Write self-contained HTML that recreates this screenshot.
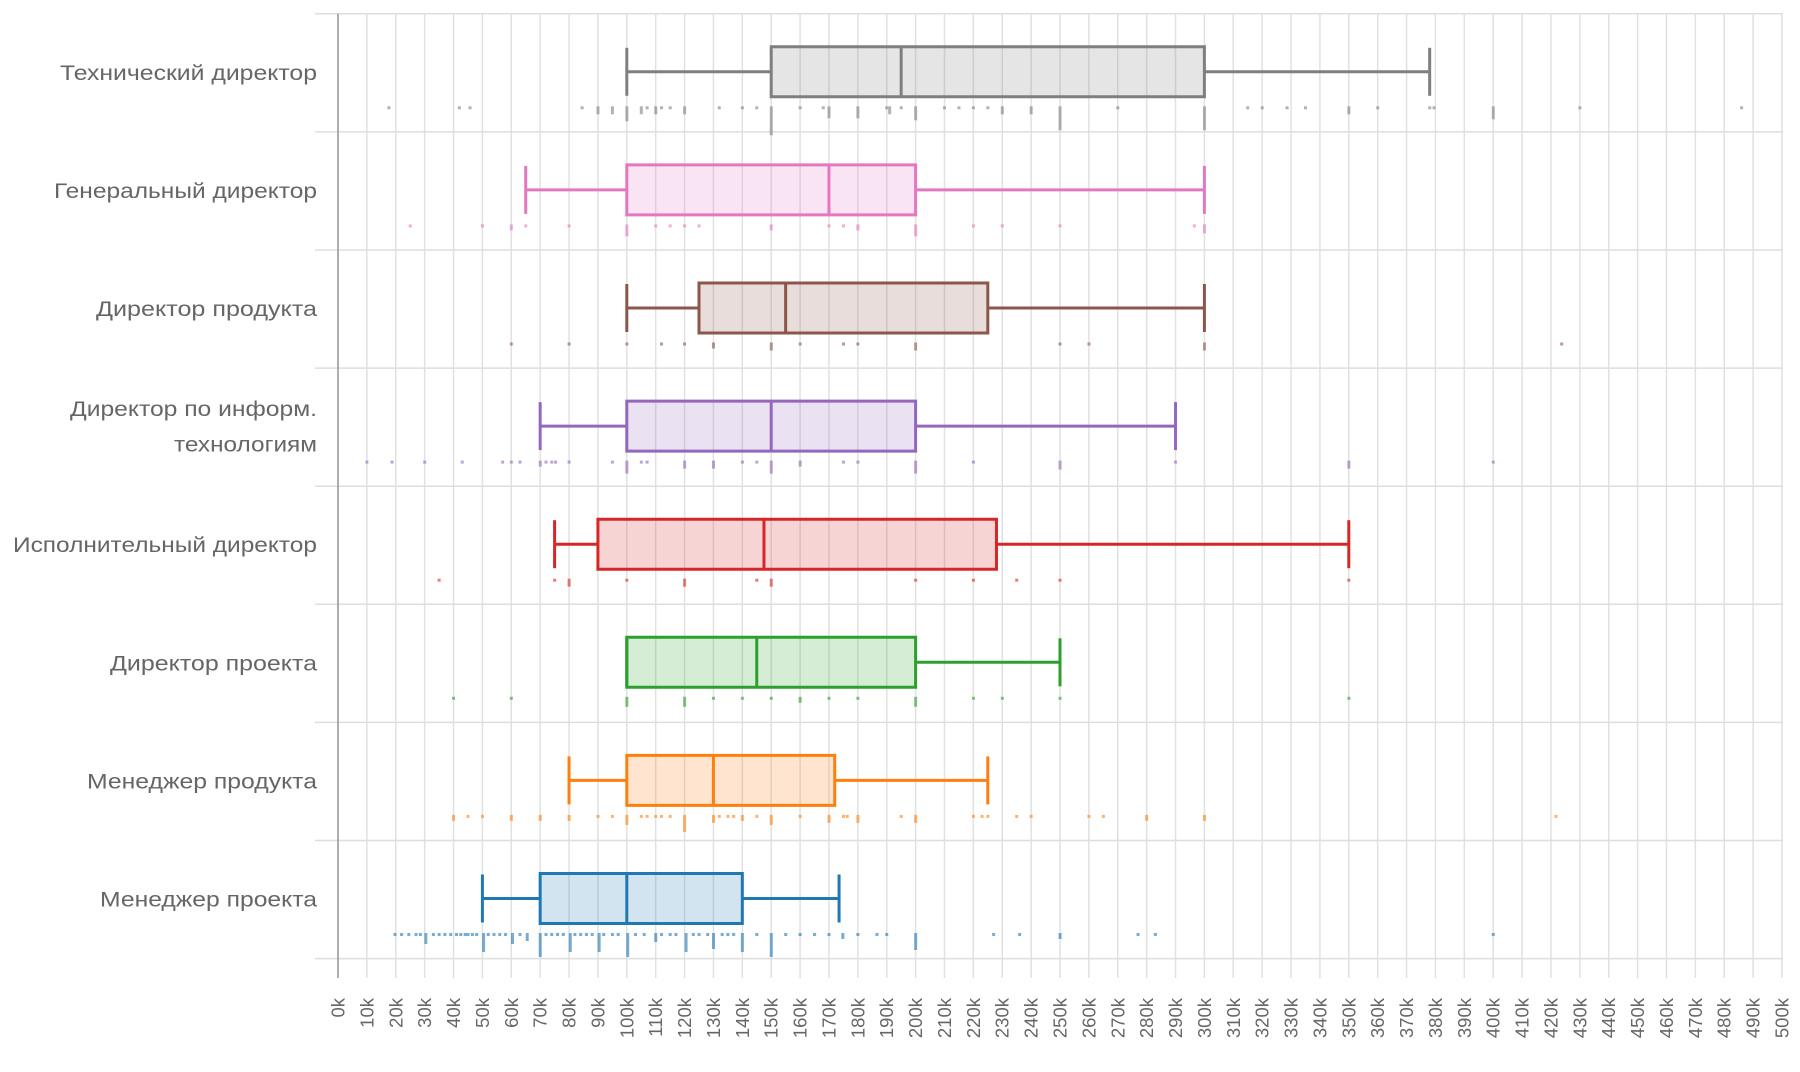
<!DOCTYPE html>
<html><head><meta charset="utf-8"><style>
html,body{margin:0;padding:0;background:#fff;}
svg{display:block;}
.d line,.d rect.b{vector-effect:non-scaling-stroke;}
.lab{font-family:"Liberation Sans",Arial,sans-serif;font-size:21.5px;fill:#666;}
.tk{font-family:"Liberation Sans",Arial,sans-serif;font-size:18.5px;fill:#666;}
</style></head><body>
<svg width="1800" height="1072" viewBox="0 0 1800 1072" xmlns="http://www.w3.org/2000/svg">
<rect width="1800" height="1072" fill="#fff"/>
<!-- vertical grid -->
<g class="d" transform="translate(338,0) scale(2.888,1)" stroke="#e1e1e1" stroke-width="1.5">
<line x1="10" x2="10" y1="13.8" y2="978"/><line x1="20" x2="20" y1="13.8" y2="978"/><line x1="30" x2="30" y1="13.8" y2="978"/><line x1="40" x2="40" y1="13.8" y2="978"/><line x1="50" x2="50" y1="13.8" y2="978"/><line x1="60" x2="60" y1="13.8" y2="978"/><line x1="70" x2="70" y1="13.8" y2="978"/><line x1="80" x2="80" y1="13.8" y2="978"/><line x1="90" x2="90" y1="13.8" y2="978"/><line x1="100" x2="100" y1="13.8" y2="978"/>
<line x1="110" x2="110" y1="13.8" y2="978"/><line x1="120" x2="120" y1="13.8" y2="978"/><line x1="130" x2="130" y1="13.8" y2="978"/><line x1="140" x2="140" y1="13.8" y2="978"/><line x1="150" x2="150" y1="13.8" y2="978"/><line x1="160" x2="160" y1="13.8" y2="978"/><line x1="170" x2="170" y1="13.8" y2="978"/><line x1="180" x2="180" y1="13.8" y2="978"/><line x1="190" x2="190" y1="13.8" y2="978"/><line x1="200" x2="200" y1="13.8" y2="978"/>
<line x1="210" x2="210" y1="13.8" y2="978"/><line x1="220" x2="220" y1="13.8" y2="978"/><line x1="230" x2="230" y1="13.8" y2="978"/><line x1="240" x2="240" y1="13.8" y2="978"/><line x1="250" x2="250" y1="13.8" y2="978"/><line x1="260" x2="260" y1="13.8" y2="978"/><line x1="270" x2="270" y1="13.8" y2="978"/><line x1="280" x2="280" y1="13.8" y2="978"/><line x1="290" x2="290" y1="13.8" y2="978"/><line x1="300" x2="300" y1="13.8" y2="978"/>
<line x1="310" x2="310" y1="13.8" y2="978"/><line x1="320" x2="320" y1="13.8" y2="978"/><line x1="330" x2="330" y1="13.8" y2="978"/><line x1="340" x2="340" y1="13.8" y2="978"/><line x1="350" x2="350" y1="13.8" y2="978"/><line x1="360" x2="360" y1="13.8" y2="978"/><line x1="370" x2="370" y1="13.8" y2="978"/><line x1="380" x2="380" y1="13.8" y2="978"/><line x1="390" x2="390" y1="13.8" y2="978"/><line x1="400" x2="400" y1="13.8" y2="978"/>
<line x1="410" x2="410" y1="13.8" y2="978"/><line x1="420" x2="420" y1="13.8" y2="978"/><line x1="430" x2="430" y1="13.8" y2="978"/><line x1="440" x2="440" y1="13.8" y2="978"/><line x1="450" x2="450" y1="13.8" y2="978"/><line x1="460" x2="460" y1="13.8" y2="978"/><line x1="470" x2="470" y1="13.8" y2="978"/><line x1="480" x2="480" y1="13.8" y2="978"/><line x1="490" x2="490" y1="13.8" y2="978"/><line x1="500" x2="500" y1="13.8" y2="978"/>
</g>
<!-- horizontal separators -->
<g stroke="#dedede" stroke-width="1.5">
<line x1="315" x2="1783" y1="13.8" y2="13.8"/><line x1="315" x2="1783" y1="131.9" y2="131.9"/><line x1="315" x2="1783" y1="250" y2="250"/><line x1="315" x2="1783" y1="368.1" y2="368.1"/><line x1="315" x2="1783" y1="486.2" y2="486.2"/><line x1="315" x2="1783" y1="604.3" y2="604.3"/><line x1="315" x2="1783" y1="722.4" y2="722.4"/><line x1="315" x2="1783" y1="840.5" y2="840.5"/><line x1="315" x2="1783" y1="958.6" y2="958.6"/>
</g>
<line x1="338" x2="338" y1="13.8" y2="978" stroke="#9a9a9a" stroke-width="1.6"/>

<!-- boxes -->
<g class="d" transform="translate(338,0) scale(2.888,1)" stroke-width="3">
<g stroke="#7f7f7f">
<rect class="b" x="150" y="46.8" width="150" height="50" fill="#7f7f7f" fill-opacity="0.2"/>
<line x1="195" x2="195" y1="46.8" y2="96.8"/>
<line x1="100" x2="150" y1="71.8" y2="71.8"/><line x1="300" x2="378" y1="71.8" y2="71.8"/>
<line x1="100" x2="100" y1="47.8" y2="95.8"/><line x1="378" x2="378" y1="47.8" y2="95.8"/>
</g>
<g stroke="#e377c2">
<rect class="b" x="100" y="164.9" width="100" height="50" fill="#e377c2" fill-opacity="0.2"/>
<line x1="170" x2="170" y1="164.9" y2="214.9"/>
<line x1="65" x2="100" y1="189.9" y2="189.9"/><line x1="200" x2="300" y1="189.9" y2="189.9"/>
<line x1="65" x2="65" y1="165.9" y2="213.9"/><line x1="300" x2="300" y1="165.9" y2="213.9"/>
</g>
<g stroke="#8c564b">
<rect class="b" x="125" y="283" width="100" height="50" fill="#8c564b" fill-opacity="0.2"/>
<line x1="155" x2="155" y1="283" y2="333"/>
<line x1="100" x2="125" y1="308" y2="308"/><line x1="225" x2="300" y1="308" y2="308"/>
<line x1="100" x2="100" y1="284" y2="332"/><line x1="300" x2="300" y1="284" y2="332"/>
</g>
<g stroke="#9467bd">
<rect class="b" x="100" y="401.1" width="100" height="50" fill="#9467bd" fill-opacity="0.2"/>
<line x1="150" x2="150" y1="401.1" y2="451.1"/>
<line x1="70" x2="100" y1="426.1" y2="426.1"/><line x1="200" x2="290" y1="426.1" y2="426.1"/>
<line x1="70" x2="70" y1="402.1" y2="450.1"/><line x1="290" x2="290" y1="402.1" y2="450.1"/>
</g>
<g stroke="#d62728">
<rect class="b" x="90" y="519.2" width="138" height="50" fill="#d62728" fill-opacity="0.2"/>
<line x1="147.5" x2="147.5" y1="519.2" y2="569.2"/>
<line x1="75" x2="90" y1="544.2" y2="544.2"/><line x1="228" x2="350" y1="544.2" y2="544.2"/>
<line x1="75" x2="75" y1="520.2" y2="568.2"/><line x1="350" x2="350" y1="520.2" y2="568.2"/>
</g>
<g stroke="#2ca02c">
<rect class="b" x="100" y="637.3" width="100" height="50" fill="#2ca02c" fill-opacity="0.2"/>
<line x1="145" x2="145" y1="637.3" y2="687.3"/>
<line x1="200" x2="250" y1="662.3" y2="662.3"/>
<line x1="100" x2="100" y1="638.3" y2="686.3"/><line x1="250" x2="250" y1="638.3" y2="686.3"/>
</g>
<g stroke="#ff7f0e">
<rect class="b" x="100" y="755.4" width="72" height="50" fill="#ff7f0e" fill-opacity="0.2"/>
<line x1="130" x2="130" y1="755.4" y2="805.4"/>
<line x1="80" x2="100" y1="780.4" y2="780.4"/><line x1="172" x2="225" y1="780.4" y2="780.4"/>
<line x1="80" x2="80" y1="756.4" y2="804.4"/><line x1="225" x2="225" y1="756.4" y2="804.4"/>
</g>
<g stroke="#1f77b4">
<rect class="b" x="70" y="873.5" width="70" height="50" fill="#1f77b4" fill-opacity="0.2"/>
<line x1="100" x2="100" y1="873.5" y2="923.5"/>
<line x1="50" x2="70" y1="898.5" y2="898.5"/><line x1="140" x2="173.5" y1="898.5" y2="898.5"/>
<line x1="50" x2="50" y1="874.5" y2="922.5"/><line x1="173.5" x2="173.5" y1="874.5" y2="922.5"/>
</g>
</g>

<!-- strip marks -->
<g transform="translate(338,0) scale(2.888,1)">
<g fill="#7f7f7f" opacity="0.6" transform="translate(0,106.3)">
<rect x="17.1" width="1.04" height="3"/><rect x="41.5" width="1.04" height="3"/><rect x="45.2" width="1.04" height="3"/><rect x="84" width="1.04" height="3"/><rect x="89.5" width="1.04" height="8"/><rect x="94.5" width="1.04" height="8"/><rect x="99.5" width="1.04" height="15"/><rect x="104.5" width="1.04" height="8"/><rect x="106.5" width="1.04" height="3"/><rect x="109.5" width="1.04" height="8"/><rect x="111.5" width="1.04" height="3"/><rect x="114.5" width="1.04" height="3"/><rect x="119.5" width="1.04" height="8"/><rect x="131.5" width="1.04" height="3"/><rect x="139.5" width="1.04" height="3"/><rect x="144.5" width="1.04" height="3"/><rect x="149.5" width="1.04" height="29"/><rect x="159.5" width="1.04" height="3"/><rect x="167.5" width="1.04" height="3"/><rect x="169.5" width="1.04" height="12"/><rect x="179.5" width="1.04" height="12"/><rect x="189.5" width="1.04" height="3"/><rect x="190.5" width="1.04" height="8"/><rect x="194.5" width="1.04" height="3"/><rect x="199.5" width="1.04" height="14"/><rect x="209.5" width="1.04" height="3"/><rect x="214.5" width="1.04" height="3"/><rect x="219.5" width="1.04" height="3"/><rect x="224.5" width="1.04" height="3"/><rect x="229.5" width="1.04" height="8"/><rect x="239.5" width="1.04" height="8"/><rect x="249.5" width="1.04" height="24"/><rect x="269.5" width="1.04" height="3"/><rect x="299.5" width="1.04" height="24"/><rect x="314.5" width="1.04" height="3"/><rect x="319.5" width="1.04" height="3"/><rect x="328.1" width="1.04" height="3"/><rect x="334.5" width="1.04" height="3"/><rect x="349.5" width="1.04" height="8"/><rect x="359.5" width="1.04" height="3"/><rect x="377.5" width="1.04" height="3"/><rect x="379" width="1.04" height="3"/><rect x="399.5" width="1.04" height="13"/><rect x="429.5" width="1.04" height="3"/><rect x="485.5" width="1.04" height="3"/>
</g>
<g fill="#e377c2" opacity="0.6" transform="translate(0,224.4)">
<rect x="24.5" width="1.04" height="3"/><rect x="49.5" width="1.04" height="3"/><rect x="59.5" width="1.04" height="6"/><rect x="64.5" width="1.04" height="3"/><rect x="79.5" width="1.04" height="3"/><rect x="99.5" width="1.04" height="12"/><rect x="109.5" width="1.04" height="3"/><rect x="114.5" width="1.04" height="3"/><rect x="119.5" width="1.04" height="3"/><rect x="124.5" width="1.04" height="3"/><rect x="149.5" width="1.04" height="6"/><rect x="169.5" width="1.04" height="3"/><rect x="174.5" width="1.04" height="3"/><rect x="179.5" width="1.04" height="6"/><rect x="199.5" width="1.04" height="12"/><rect x="219.5" width="1.04" height="3"/><rect x="229.5" width="1.04" height="3"/><rect x="249.5" width="1.04" height="3"/><rect x="296" width="1.04" height="3"/><rect x="299.5" width="1.04" height="9"/>
</g>
<g fill="#8c564b" opacity="0.6" transform="translate(0,342.5)">
<rect x="59.5" width="1.04" height="3"/><rect x="79.5" width="1.04" height="3"/><rect x="99.5" width="1.04" height="3"/><rect x="111.5" width="1.04" height="3"/><rect x="119.5" width="1.04" height="3"/><rect x="129.5" width="1.04" height="6"/><rect x="149.5" width="1.04" height="8"/><rect x="159.5" width="1.04" height="3"/><rect x="174.5" width="1.04" height="3"/><rect x="179.5" width="1.04" height="3"/><rect x="199.5" width="1.04" height="8"/><rect x="249.5" width="1.04" height="3"/><rect x="259.5" width="1.04" height="3"/><rect x="299.5" width="1.04" height="8"/><rect x="423.2" width="1.04" height="3"/>
</g>
<g fill="#9467bd" opacity="0.6" transform="translate(0,460.6)">
<rect x="9.5" width="1.04" height="3"/><rect x="18.2" width="1.04" height="3"/><rect x="29.5" width="1.04" height="3"/><rect x="42.5" width="1.04" height="3"/><rect x="56.5" width="1.04" height="3"/><rect x="59.5" width="1.04" height="3"/><rect x="62.5" width="1.04" height="3"/><rect x="69.5" width="1.04" height="6"/><rect x="71.5" width="1.04" height="3"/><rect x="73.5" width="1.04" height="3"/><rect x="74.8" width="1.04" height="3"/><rect x="79.5" width="1.04" height="3"/><rect x="94.5" width="1.04" height="3"/><rect x="99.5" width="1.04" height="13"/><rect x="104.5" width="1.04" height="3"/><rect x="106.5" width="1.04" height="3"/><rect x="119.5" width="1.04" height="8"/><rect x="129.5" width="1.04" height="8"/><rect x="139.5" width="1.04" height="3"/><rect x="144.5" width="1.04" height="3"/><rect x="149.5" width="1.04" height="13"/><rect x="159.5" width="1.04" height="6"/><rect x="174.5" width="1.04" height="3"/><rect x="179.5" width="1.04" height="3"/><rect x="199.5" width="1.04" height="13"/><rect x="219.5" width="1.04" height="3"/><rect x="249.5" width="1.04" height="9"/><rect x="289.5" width="1.04" height="3"/><rect x="349.5" width="1.04" height="8"/><rect x="399.5" width="1.04" height="3"/>
</g>
<g fill="#d62728" opacity="0.6" transform="translate(0,578.7)">
<rect x="34.5" width="1.04" height="3"/><rect x="74.5" width="1.04" height="3"/><rect x="79.5" width="1.04" height="8"/><rect x="99.5" width="1.04" height="3"/><rect x="119.5" width="1.04" height="8"/><rect x="144.5" width="1.04" height="3"/><rect x="149.5" width="1.04" height="8"/><rect x="199.5" width="1.04" height="3"/><rect x="219.5" width="1.04" height="3"/><rect x="234.5" width="1.04" height="3"/><rect x="249.5" width="1.04" height="3"/><rect x="349.5" width="1.04" height="3"/>
</g>
<g fill="#2ca02c" opacity="0.6" transform="translate(0,696.8)">
<rect x="39.5" width="1.04" height="3"/><rect x="59.5" width="1.04" height="3"/><rect x="99.5" width="1.04" height="10"/><rect x="119.5" width="1.04" height="10"/><rect x="129.5" width="1.04" height="3"/><rect x="139.5" width="1.04" height="3"/><rect x="149.5" width="1.04" height="3"/><rect x="159.5" width="1.04" height="6"/><rect x="169.5" width="1.04" height="3"/><rect x="179.5" width="1.04" height="3"/><rect x="199.5" width="1.04" height="10"/><rect x="219.5" width="1.04" height="3"/><rect x="229.5" width="1.04" height="3"/><rect x="249.5" width="1.04" height="3"/><rect x="349.5" width="1.04" height="3"/>
</g>
<g fill="#ff7f0e" opacity="0.6" transform="translate(0,814.9)">
<rect x="39.5" width="1.04" height="6"/><rect x="44.5" width="1.04" height="3"/><rect x="49.5" width="1.04" height="3"/><rect x="59.5" width="1.04" height="6"/><rect x="69.5" width="1.04" height="6"/><rect x="79.5" width="1.04" height="6"/><rect x="89.5" width="1.04" height="3"/><rect x="94.5" width="1.04" height="3"/><rect x="99.5" width="1.04" height="10"/><rect x="104.5" width="1.04" height="3"/><rect x="106.5" width="1.04" height="3"/><rect x="109.5" width="1.04" height="3"/><rect x="111.5" width="1.04" height="3"/><rect x="114.5" width="1.04" height="3"/><rect x="119.5" width="1.04" height="17"/><rect x="129.5" width="1.04" height="8"/><rect x="131.5" width="1.04" height="3"/><rect x="134.5" width="1.04" height="3"/><rect x="136.5" width="1.04" height="3"/><rect x="139.5" width="1.04" height="6"/><rect x="144.5" width="1.04" height="3"/><rect x="149.5" width="1.04" height="10"/><rect x="159.5" width="1.04" height="3"/><rect x="169.5" width="1.04" height="8"/><rect x="174.5" width="1.04" height="3"/><rect x="175.8" width="1.04" height="3"/><rect x="179.5" width="1.04" height="8"/><rect x="194.5" width="1.04" height="3"/><rect x="199.5" width="1.04" height="8"/><rect x="219.5" width="1.04" height="3"/><rect x="222.5" width="1.04" height="3"/><rect x="224.5" width="1.04" height="3"/><rect x="234.5" width="1.04" height="3"/><rect x="239.5" width="1.04" height="3"/><rect x="259.5" width="1.04" height="3"/><rect x="264.5" width="1.04" height="3"/><rect x="279.5" width="1.04" height="6"/><rect x="299.5" width="1.04" height="6"/><rect x="421.2" width="1.04" height="3"/>
</g>
<g fill="#1f77b4" opacity="0.6" transform="translate(0,933)">
<rect x="19.2" width="1.04" height="3"/><rect x="21.5" width="1.04" height="3"/><rect x="24" width="1.04" height="3"/><rect x="26.5" width="1.04" height="3"/><rect x="28" width="1.04" height="3"/><rect x="29.9" width="1.04" height="11"/><rect x="32.5" width="1.04" height="3"/><rect x="34.5" width="1.04" height="3"/><rect x="36.5" width="1.04" height="3"/><rect x="38.5" width="1.04" height="3"/><rect x="40.5" width="1.04" height="3"/><rect x="42" width="1.04" height="3"/><rect x="43.5" width="1.04" height="3"/><rect x="44.5" width="1.04" height="3"/><rect x="46" width="1.04" height="3"/><rect x="47.5" width="1.04" height="3"/><rect x="49.9" width="1.04" height="19"/><rect x="51.5" width="1.04" height="3"/><rect x="53.5" width="1.04" height="3"/><rect x="55.5" width="1.04" height="3"/><rect x="57.5" width="1.04" height="3"/><rect x="59.9" width="1.04" height="11"/><rect x="62.5" width="1.04" height="3"/><rect x="65" width="1.04" height="8"/><rect x="69.5" width="1.04" height="24"/><rect x="71.5" width="1.04" height="3"/><rect x="73.5" width="1.04" height="3"/><rect x="75.5" width="1.04" height="3"/><rect x="77.5" width="1.04" height="3"/><rect x="79.9" width="1.04" height="19"/><rect x="81.5" width="1.04" height="3"/><rect x="83.5" width="1.04" height="3"/><rect x="85.5" width="1.04" height="3"/><rect x="87.5" width="1.04" height="3"/><rect x="89.9" width="1.04" height="19"/><rect x="91.5" width="1.04" height="3"/><rect x="94.5" width="1.04" height="3"/><rect x="96.5" width="1.04" height="3"/><rect x="99.8" width="1.04" height="24"/><rect x="102.5" width="1.04" height="3"/><rect x="105.5" width="1.04" height="3"/><rect x="109.5" width="1.04" height="9"/><rect x="111.5" width="1.04" height="3"/><rect x="114.5" width="1.04" height="3"/><rect x="116.5" width="1.04" height="3"/><rect x="120" width="1.04" height="19"/><rect x="122.5" width="1.04" height="3"/><rect x="124.5" width="1.04" height="3"/><rect x="127.5" width="1.04" height="3"/><rect x="129.5" width="1.04" height="16"/><rect x="132.5" width="1.04" height="3"/><rect x="134.5" width="1.04" height="3"/><rect x="136.5" width="1.04" height="3"/><rect x="139.5" width="1.04" height="19"/><rect x="144.5" width="1.04" height="3"/><rect x="149.5" width="1.04" height="24"/><rect x="154.5" width="1.04" height="3"/><rect x="159.5" width="1.04" height="3"/><rect x="164.5" width="1.04" height="3"/><rect x="169.5" width="1.04" height="3"/><rect x="174.3" width="1.04" height="6"/><rect x="179.5" width="1.04" height="3"/><rect x="186.1" width="1.04" height="3"/><rect x="189.5" width="1.04" height="3"/><rect x="199.5" width="1.04" height="17"/><rect x="226.5" width="1.04" height="3"/><rect x="235.5" width="1.04" height="3"/><rect x="249.5" width="1.04" height="6"/><rect x="276.5" width="1.04" height="3"/><rect x="282.5" width="1.04" height="3"/><rect x="399.5" width="1.04" height="3"/>
</g>
</g>

<!-- row labels -->
<g class="lab" text-anchor="end">
<text x="317" y="79.8" textLength="257" lengthAdjust="spacingAndGlyphs">Технический директор</text>
<text x="317" y="197.9" textLength="263" lengthAdjust="spacingAndGlyphs">Генеральный директор</text>
<text x="317" y="316" textLength="221" lengthAdjust="spacingAndGlyphs">Директор продукта</text>
<text x="317" y="416" textLength="247" lengthAdjust="spacingAndGlyphs">Директор по информ.</text>
<text x="317" y="451.5" textLength="143" lengthAdjust="spacingAndGlyphs">технологиям</text>
<text x="317" y="552.2" textLength="304" lengthAdjust="spacingAndGlyphs">Исполнительный директор</text>
<text x="317" y="670.3" textLength="207" lengthAdjust="spacingAndGlyphs">Директор проекта</text>
<text x="317" y="788.4" textLength="230" lengthAdjust="spacingAndGlyphs">Менеджер продукта</text>
<text x="317" y="906.5" textLength="217" lengthAdjust="spacingAndGlyphs">Менеджер проекта</text>
</g>

<!-- tick labels -->
<g class="tk" text-anchor="end">
<text transform="translate(344.5,998) rotate(-90)">0k</text>
<text transform="translate(373.38,998) rotate(-90)">10k</text>
<text transform="translate(402.26,998) rotate(-90)">20k</text>
<text transform="translate(431.14,998) rotate(-90)">30k</text>
<text transform="translate(460.02,998) rotate(-90)">40k</text>
<text transform="translate(488.9,998) rotate(-90)">50k</text>
<text transform="translate(517.78,998) rotate(-90)">60k</text>
<text transform="translate(546.66,998) rotate(-90)">70k</text>
<text transform="translate(575.54,998) rotate(-90)">80k</text>
<text transform="translate(604.42,998) rotate(-90)">90k</text>
<text transform="translate(633.3,998) rotate(-90)">100k</text>
<text transform="translate(662.18,998) rotate(-90)">110k</text>
<text transform="translate(691.06,998) rotate(-90)">120k</text>
<text transform="translate(719.94,998) rotate(-90)">130k</text>
<text transform="translate(748.82,998) rotate(-90)">140k</text>
<text transform="translate(777.7,998) rotate(-90)">150k</text>
<text transform="translate(806.58,998) rotate(-90)">160k</text>
<text transform="translate(835.46,998) rotate(-90)">170k</text>
<text transform="translate(864.34,998) rotate(-90)">180k</text>
<text transform="translate(893.22,998) rotate(-90)">190k</text>
<text transform="translate(922.1,998) rotate(-90)">200k</text>
<text transform="translate(950.98,998) rotate(-90)">210k</text>
<text transform="translate(979.86,998) rotate(-90)">220k</text>
<text transform="translate(1008.74,998) rotate(-90)">230k</text>
<text transform="translate(1037.62,998) rotate(-90)">240k</text>
<text transform="translate(1066.5,998) rotate(-90)">250k</text>
<text transform="translate(1095.38,998) rotate(-90)">260k</text>
<text transform="translate(1124.26,998) rotate(-90)">270k</text>
<text transform="translate(1153.14,998) rotate(-90)">280k</text>
<text transform="translate(1182.02,998) rotate(-90)">290k</text>
<text transform="translate(1210.9,998) rotate(-90)">300k</text>
<text transform="translate(1239.78,998) rotate(-90)">310k</text>
<text transform="translate(1268.66,998) rotate(-90)">320k</text>
<text transform="translate(1297.54,998) rotate(-90)">330k</text>
<text transform="translate(1326.42,998) rotate(-90)">340k</text>
<text transform="translate(1355.3,998) rotate(-90)">350k</text>
<text transform="translate(1384.18,998) rotate(-90)">360k</text>
<text transform="translate(1413.06,998) rotate(-90)">370k</text>
<text transform="translate(1441.94,998) rotate(-90)">380k</text>
<text transform="translate(1470.82,998) rotate(-90)">390k</text>
<text transform="translate(1499.7,998) rotate(-90)">400k</text>
<text transform="translate(1528.58,998) rotate(-90)">410k</text>
<text transform="translate(1557.46,998) rotate(-90)">420k</text>
<text transform="translate(1586.34,998) rotate(-90)">430k</text>
<text transform="translate(1615.22,998) rotate(-90)">440k</text>
<text transform="translate(1644.1,998) rotate(-90)">450k</text>
<text transform="translate(1672.98,998) rotate(-90)">460k</text>
<text transform="translate(1701.86,998) rotate(-90)">470k</text>
<text transform="translate(1730.74,998) rotate(-90)">480k</text>
<text transform="translate(1759.62,998) rotate(-90)">490k</text>
<text transform="translate(1788.5,998) rotate(-90)">500k</text>
</g>
</svg>
</body></html>
